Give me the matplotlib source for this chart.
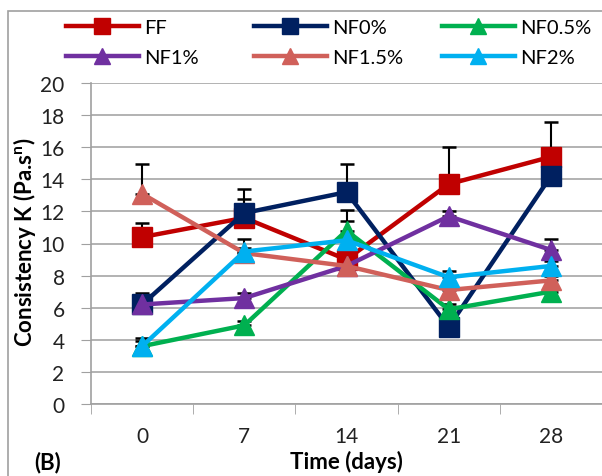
import matplotlib
matplotlib.use("Agg")
import matplotlib.pyplot as plt
from matplotlib.patches import Rectangle
import numpy as np

plt.rcParams['font.family'] = ['Lato', 'DejaVu Sans']

days = ["0", "7", "14", "21", "28"]
series_names = ["FF", "NF0%", "NF0.5%", "NF1%", "NF1.5%", "NF2%"]
ff = [10.4, 11.6, 9.0, 13.7, 15.4]
nf0 = [6.2, 11.9, 13.2, 4.8, 14.2]
nf05 = [3.6, 4.9, 10.8, 5.9, 7.0]
nf1 = [6.2, 6.6, 8.6, 11.7, 9.6]
nf15 = [13.1, 9.4, 8.6, 7.1, 7.7]
nf2 = [3.6, 9.5, 10.2, 7.9, 8.6]
ff_err = [0.9, 1.2, 0.3, 2.3, 2.2]
nf0_err = [0.7, 1.5, 1.75, 0.3, 0.3]
nf05_err = [0.3, 0.3, 1.3, 0.3, 0.3]
nf1_err = [0.3, 0.3, 0.3, 0.3, 0.7]
nf15_err = [1.85, 0.3, 0.3, 0.3, 0.3]
nf2_err = [0.5, 0.8, 1.2, 0.4, 0.3]

values = [ff, nf0, nf05, nf1, nf15, nf2]
errors = [ff_err, nf0_err, nf05_err, nf1_err, nf15_err, nf2_err]
colors = ["#C00000", "#002060", "#00B050", "#7030A0", "#D0605A", "#00B0F0"]
markers = ["s", "s", "^", "^", "^", "^"]

W, H = 602, 477
fig = plt.figure(figsize=(W / 100, H / 100), dpi=100)
fig.patches.append(Rectangle((8 / W, -0.1), 1.2, 1 - 12 / H + 0.1, transform=fig.transFigure,
                             fill=False, edgecolor="#A0A0A0", linewidth=1.2, zorder=0))
ax = fig.add_axes([91 / W, 1 - 405 / H, 511 / W, (405 - 84) / H])

x = np.arange(len(days))
handles = []
for i, (name, v, e, c, m) in enumerate(zip(series_names, values, errors, colors, markers)):
    ax.errorbar(x, v, yerr=[np.zeros(len(e)), e], fmt='none', ecolor='black',
                elinewidth=1.5, capsize=5, capthick=1.8, zorder=2 + i * 0.1)
    ms = 14 if m == "s" else 15
    h, = ax.plot(x, v, color=c, marker=m, markersize=ms, linewidth=3.2, label=name,
                 zorder=3 + i * 0.1)
    handles.append(h)

ax.set_xlim(-0.5, len(days) - 0.5)
ax.set_ylim(0, 20)
ax.set_yticks(np.arange(0, 21, 2))
ax.set_xticks(x)
ax.set_xticklabels(days)
ax.set_xticks(np.arange(-0.5, len(days), 1), minor=True)
ax.tick_params(axis='x', which='major', length=0, pad=16, labelsize=15, labelcolor="#222222")
ax.tick_params(axis='x', which='minor', length=7, color="#A0A0A0", direction='out')
ax.tick_params(axis='y', length=7, color="#A0A0A0", labelsize=15, labelcolor="#222222", pad=12)
ax.grid(axis='y', color="#A6A6A6", linewidth=1.2)
ax.set_axisbelow(True)
for s in ["top", "right"]:
    ax.spines[s].set_visible(False)
for s in ["left", "bottom"]:
    ax.spines[s].set_color("#A0A0A0")
    ax.spines[s].set_linewidth(1.2)

ax.set_xlabel("Time (days)", fontsize=16, fontweight='bold')
ax.xaxis.set_label_coords(0.5, 1 - (462 - 84) / (405 - 84), transform=ax.transAxes)
ax.xaxis.label.set_va('center')
ax.set_ylabel("Consistency K (Pa.s$^\\mathregular{n}$)", fontsize=16, fontweight='bold')
ax.yaxis.set_label_coords((25 - 91) / 511, (405 - 242) / (405 - 84), transform=ax.transAxes)
ax.yaxis.label.set_va('center')
fig.text(48 / W, 1 - 463 / H, "(B)", fontsize=16, fontweight='bold', ha='center', va='center')

col_x = [50, 238, 426]
for c, (a, b) in enumerate([(0, 3), (1, 4), (2, 5)]):
    fig.legend([handles[a], handles[b]], [series_names[a], series_names[b]], ncol=1,
               loc='upper left', bbox_to_anchor=(col_x[c] / W, 1 - 4 / H), frameon=False,
               fontsize=14.5, handlelength=3.6, handletextpad=0.25, borderpad=0.3,
               labelspacing=0.65, markerscale=0.8)

fig.savefig("out.png", dpi=100)
